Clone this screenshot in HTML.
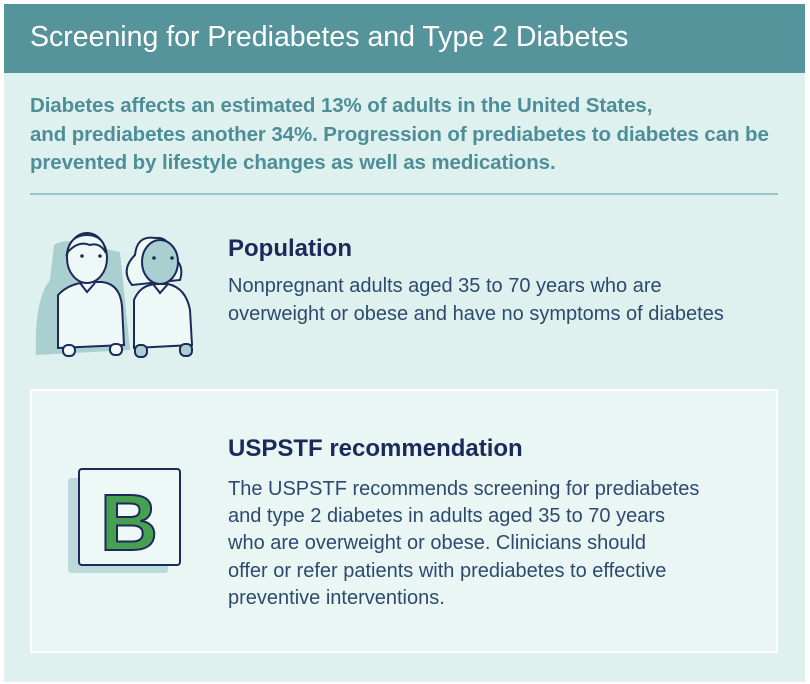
<!DOCTYPE html>
<html><head><meta charset="utf-8"><style>
body{margin:0;width:810px;height:684px;background:#fff;position:relative;overflow:hidden;font-family:"Liberation Sans",sans-serif}
.panel{position:absolute;left:4px;top:4px;width:801px;height:678px;background:#dff1ef}
.hdr{position:absolute;left:4px;top:4px;width:801px;height:69px;background:#56949c}
.t{position:absolute;white-space:nowrap}
</style></head><body>
<div class="panel"></div>
<div class="hdr"></div>
<div class="t" style="left:30px;top:21px;font-size:28.5px;color:#fff;letter-spacing:0px">Screening for Prediabetes and Type 2 Diabetes</div>
<div class="t" style="left:30px;top:92px;font-size:20.5px;line-height:28.5px;color:#4e8e98;font-weight:bold;letter-spacing:-0.1px">Diabetes affects an estimated 13% of adults in the United States,<br>and prediabetes another 34%. Progression of prediabetes to diabetes can be<br>prevented by lifestyle changes as well as medications.</div>
<div style="position:absolute;left:30px;top:193px;width:748px;height:2px;background:#9cc7c9"></div>
<svg style="position:absolute;left:20px;top:220px" width="200" height="150" viewBox="0 0 200 150">
<path d="M34 25 Q45 18 62 24 L100 32 L110 130 L16 135 Q14 80 30 60 Z" fill="#a9cfd1"/>
<path d="M38 75 Q50 62 72 62 L82 62 Q100 64 102 86 L104 125 L38 128 Z" fill="#eef8f7" stroke="#1c2a5a" stroke-width="2"/>
<ellipse cx="67" cy="38" rx="20" ry="25" fill="#eef8f7" stroke="#1c2a5a" stroke-width="2"/>
<path d="M47 33 Q50 15 67 15 Q84 15 86 33 Q80 22 70 25 Q58 20 47 33Z" fill="#eef8f7" stroke="#1c2a5a" stroke-width="2"/>
<circle cx="62" cy="36" r="1.8" fill="#1c2a5a"/><circle cx="80" cy="36" r="1.8" fill="#1c2a5a"/>
<path d="M60 63 L67 72 L75 63" fill="none" stroke="#1c2a5a" stroke-width="2"/>
<path d="M152 36 Q150 16 135 18 Q117 15 115 35 Q100 50 112 65 L160 60 Q165 45 152 36Z" fill="#eef8f7" stroke="#1c2a5a" stroke-width="2"/>
<ellipse cx="140" cy="42" rx="18" ry="22" fill="#a9cfd1" stroke="#1c2a5a" stroke-width="2"/>
<circle cx="134" cy="38" r="1.8" fill="#1c2a5a"/><circle cx="152" cy="38" r="1.8" fill="#1c2a5a"/>
<path d="M114 80 Q120 65 136 64 L148 64 Q166 68 170 90 L172 125 L114 128 Z" fill="#eef8f7" stroke="#1c2a5a" stroke-width="2"/>
<path d="M133 64 L140 73 L148 64" fill="none" stroke="#1c2a5a" stroke-width="2"/>
<rect x="115" y="125" width="12" height="12" rx="5" fill="#a9cfd1" stroke="#1c2a5a" stroke-width="2"/>
<rect x="160" y="124" width="12" height="12" rx="5" fill="#a9cfd1" stroke="#1c2a5a" stroke-width="2"/>
<rect x="43" y="125" width="12" height="11" rx="5" fill="#eef8f7" stroke="#1c2a5a" stroke-width="2"/>
<rect x="90" y="124" width="12" height="11" rx="5" fill="#eef8f7" stroke="#1c2a5a" stroke-width="2"/>
</svg>
<div class="t" style="left:228px;top:235px;font-size:24px;font-weight:bold;color:#1c2a5a">Population</div>
<div class="t" style="left:228px;top:272px;font-size:20px;line-height:28px;color:#2d4a6e;letter-spacing:0px">Nonpregnant adults aged 35 to 70 years who are<br>overweight or obese and have no symptoms of diabetes</div>
<div style="position:absolute;left:30px;top:389px;width:744px;height:260px;background:#eaf6f4;border:2px solid #fff"></div>
<div style="position:absolute;left:68px;top:478px;width:100px;height:95px;background:#bcd9db;border-radius:3px"></div>
<div style="position:absolute;left:78px;top:468px;width:99px;height:94px;background:#eef8f7;border:2px solid #1c2a5a;border-radius:4px"></div>
<svg style="position:absolute;left:78px;top:468px" width="103" height="98"><text x="51" y="82" text-anchor="middle" font-family="Liberation Sans" font-weight="bold" font-size="80" fill="#47a04f" stroke="#1c2a5a" stroke-width="2">B</text></svg>
<div class="t" style="left:228px;top:435px;font-size:24px;font-weight:bold;color:#1c2a5a">USPSTF recommendation</div>
<div class="t" style="left:228px;top:476px;font-size:20px;line-height:27.2px;color:#2d4a6e;letter-spacing:0px">The USPSTF recommends screening for prediabetes<br>and type 2 diabetes in adults aged 35 to 70 years<br>who are overweight or obese. Clinicians should<br>offer or refer patients with prediabetes to effective<br>preventive interventions.</div>
</body></html>
